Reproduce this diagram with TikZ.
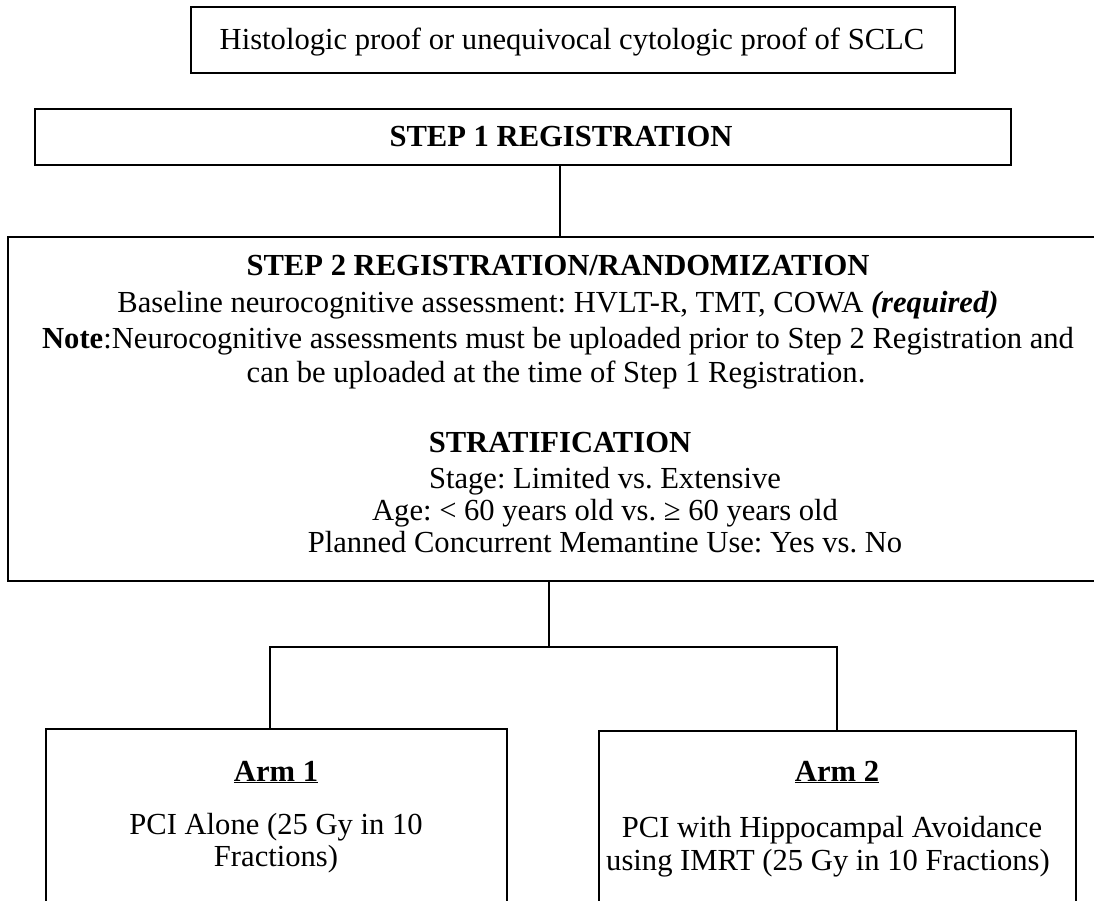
\documentclass[tikz,border=0pt]{standalone}
\usepackage{fontspec}
\setmainfont{Liberation Serif}
\begin{document}
\frenchspacing
\begin{tikzpicture}[x=1pt,y=-1pt,
  box/.style={draw, line width=1.8pt, inner sep=0pt, anchor=north west},
  txt/.style={anchor=base, inner sep=0pt, font=\fontsize{30.6}{36}\selectfont},
  conn/.style={line width=1.4pt}]
\useasboundingbox (0,0) rectangle (1094,901);
\clip (0,0) rectangle (1094,901);
% boxes
\node[box, minimum width=764pt, minimum height=66pt] (proof) at (190,6) {};
\node[box, minimum width=976pt, minimum height=56pt] (s1) at (34,108) {};
\node[box, minimum width=1103pt, minimum height=344pt] (s2) at (7,236) {};
\node[box, minimum width=461pt, minimum height=220pt] (a1) at (45,728) {};
\node[box, minimum width=477pt, minimum height=220pt] (a2) at (598,730) {};
% texts
\node[txt] (prooft) at (572,50) {Histologic proof or unequivocal cytologic proof of SCLC};
\node[txt] (s1t) at (561,147) {\textbf{STEP 1 REGISTRATION}};
\node[txt] (s2t) at (558,275) {\textbf{STEP 2 REGISTRATION/RANDOMIZATION}};
\node[txt] (s2a) at (558,312) {Baseline neurocognitive assessment: HVLT-R, TMT, COWA \textbf{\textit{(required)}}};
\node[txt] (s2b) at (558,348) {\textbf{Note}:Neurocognitive assessments must be uploaded prior to Step 2 Registration and};
\node[txt] (s2c) at (556,382) {can be uploaded at the time of Step 1 Registration.};
\node[txt] (st) at (560,452) {\textbf{STRATIFICATION}};
\node[txt] (st1) at (605,488) {Stage: Limited vs. Extensive};
\node[txt] (st2) at (605,520) {Age: < 60 years old vs. ≥ 60 years old};
\node[txt] (st3) at (605,552) {Planned Concurrent Memantine Use: Yes vs. No};
\node[txt] (a1h) at (276,781) {\underline{\textbf{Arm 1}}};
\node[txt] (a1t) at (276,834) {PCI Alone (25 Gy in 10};
\node[txt] (a1u) at (276,866) {Fractions)};
\node[txt] (a2h) at (837,781) {\underline{\textbf{Arm 2}}};
\node[txt] (a2t) at (832,837) {PCI with Hippocampal Avoidance};
\node[txt] (a2u) at (828,870) {using IMRT (25 Gy in 10 Fractions)};
% connectors
\coordinate (split) at (549,647);
\draw[conn] (s1.south -| 560,0) -- (s2.north -| 560,0);
\draw[conn] (s2.south -| split) -- (split);
\draw[conn] (a1.north -| 270,0) |- (split) -| (a2.north -| 837,0);
\end{tikzpicture}
\end{document}
